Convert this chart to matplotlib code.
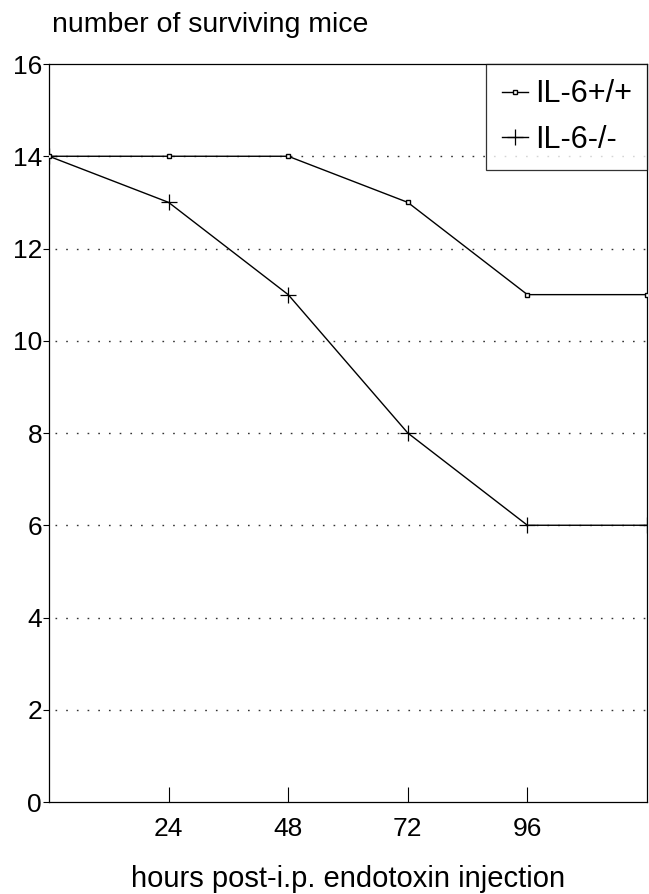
import matplotlib
matplotlib.use("Agg")
import matplotlib.pyplot as plt

# survival data
hours = [0, 24, 48, 72, 96, 120]
wild_type = [14, 14, 14, 13, 11, 11]
knockout = [14, 13, 11, 8, 6, 6]
xticks = [24, 48, 72, 96]
yticks = [0, 2, 4, 6, 8, 10, 12, 14, 16]

plt.rcParams['font.family'] = ['Liberation Sans', 'DejaVu Sans']

fig = plt.figure(figsize=(6.49, 8.94), dpi=100)
ax = fig.add_axes([0.0755, 0.1029, 0.9214, 0.8255])

# gridlines first, so the curves sit on top
for y in yticks[1:-1]:
    ax.axhline(y, xmin=0.01, xmax=1, color='#333333', lw=1.0, ls=(0, (1.2, 6.5)), zorder=1)

ko, = ax.plot(hours, knockout, color='black', lw=1.0, marker='+', ms=11,
              mew=0.9, label='IL-6-/-', zorder=3)
wt, = ax.plot(hours, wild_type, color='black', lw=1.0, marker='s', ms=3.2,
              mfc='white', mec='black', mew=1.0, label='IL-6+/+', zorder=4)

ax.set_xlim(0, 120)
ax.set_ylim(0, 16)
ax.set_xticks(xticks)
ax.set_yticks(yticks)
ax.tick_params(axis='x', direction='in', length=11, width=0.8, labelsize=19, pad=11)
ax.tick_params(axis='y', direction='out', length=4, width=0.8, labelsize=19, pad=1)

for s in ax.spines.values():
    s.set_linewidth(0.9)

fig.text(0.0755 + 0.9214 / 2, (894 - 887) / 894,
         'hours post-i.p. endotoxin injection', fontsize=21, ha='center', va='baseline')
fig.text(52 / 649, (894 - 32) / 894, 'number of surviving mice', fontsize=20.5,
         ha='left', va='baseline')

leg = ax.legend(handles=[wt, ko], loc='upper right', bbox_to_anchor=(1, 1),
                fontsize=22, frameon=True, fancybox=False, edgecolor='black',
                handlelength=0.85, handletextpad=0.23, borderaxespad=0,
                borderpad=0.5, labelspacing=0.5)
leg.get_frame().set_linewidth(0.9)

fig.savefig('out.png', dpi=100)
